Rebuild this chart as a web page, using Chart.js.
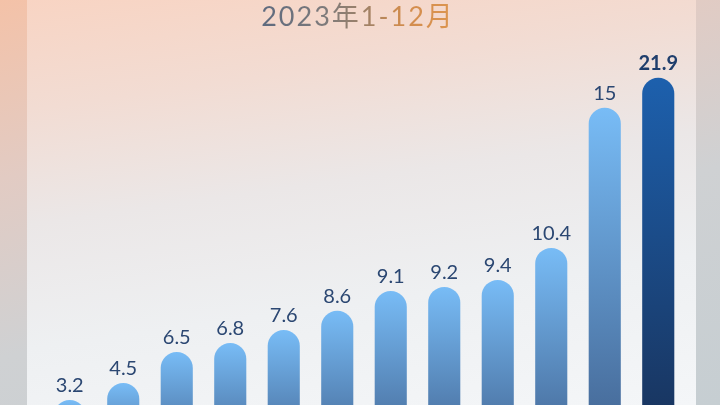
<!DOCTYPE html>
<html>
<head>
<meta charset="utf-8">
<script src="https://cdn.jsdelivr.net/npm/chart.js@4"></script>
<style>
  html, body { margin: 0; padding: 0; }
  body {
    width: 720px; height: 405px; overflow: hidden; position: relative;
    background: linear-gradient(165deg, #f4c2a8 0%, #e2cbc3 30%, #cfd1d3 60%, #c6ced2 100%);
  }
  #panel {
    position: absolute; left: 27px; top: 0; width: 669px; height: 405px;
    background: linear-gradient(172deg, #f8d4c3 0%, #f2dcd3 22%, #ebe7e7 45%, #eef0f2 70%, #f4f6f8 100%);
  }
  #title {
    position: absolute; left: 0; top: 2px; width: 716px; text-align: center;
    font-family: "Lato", "Noto Sans CJK SC", sans-serif; font-size: 27px; line-height: 27px;
    letter-spacing: 2px; font-weight: 400;
  }
  #title span {
    background: linear-gradient(90deg, #5d6a7f 0%, #7f7b7a 35%, #a88362 58%, #c98a50 68%, #d38d4e 78%, #dd9650 100%);
    -webkit-background-clip: text; background-clip: text; color: transparent;
  }
  #c { position: absolute; left: 0; top: 0; }
</style>
</head>
<body>
<div id="panel"></div>
<div id="title"><span>2023年1-12月</span></div>
<canvas id="c" width="720" height="405"></canvas>
<script>
// Categories (months) and displayed values
const categories = ['1月','2月','3月','4月','5月','6月','7月','8月','9月','10月','11月','12月'];
const values = ['3.2','4.5','6.5','6.8','7.6','8.6','9.1','9.2','9.4','10.4','15','21.9'];
// Bar lengths as drawn in the picture (not proportional to the labels)
const barLevels = [0.33, 1.47, 3.55, 4.15, 5.02, 6.30, 7.63, 7.90, 8.37, 10.51, 19.89, 21.9];

const labelPlugin = {
  id: 'barLabels',
  afterDatasetsDraw(chart) {
    const ctx = chart.ctx;
    const meta = chart.getDatasetMeta(0);
    ctx.save();
    ctx.textAlign = 'center';
    ctx.textBaseline = 'alphabetic';
    meta.data.forEach((bar, i) => {
      const last = i === meta.data.length - 1;
      ctx.font = (last ? '700 ' : '400 ') + '20px Lato, sans-serif';
      ctx.fillStyle = last ? '#1f3e6c' : '#2b4772';
      ctx.fillText(values[i], bar.x, bar.y - 8);
    });
    ctx.restore();
  }
};

function barColor(context) {
  const chart = context.chart;
  const area = chart.chartArea;
  if (!area || context.dataIndex === undefined) return '#6aaee9';
  const y = chart.scales.y.getPixelForValue(context.raw);
  const last = context.dataIndex === categories.length - 1;
  const g = chart.ctx.createLinearGradient(0, y, 0, area.bottom + 60);
  if (last) {
    g.addColorStop(0, '#1d60ad');
    g.addColorStop(1, '#182f55');
  } else {
    g.addColorStop(0, '#78bcf6');
    g.addColorStop(1, '#3f5f8c');
  }
  return g;
}

new Chart(document.getElementById('c'), {
  type: 'bar',
  data: {
    labels: categories,
    datasets: [{
      data: barLevels,
      base: -3,
      backgroundColor: barColor,
      borderRadius: { topLeft: 16, topRight: 16, bottomLeft: 0, bottomRight: 0 },
      borderSkipped: false,
      barPercentage: 0.6,
      categoryPercentage: 1
    }]
  },
  options: {
    responsive: false,
    animation: false,
    layout: { padding: { left: 43, right: 35, top: 0, bottom: 0 } },
    plugins: { legend: { display: false }, tooltip: { enabled: false }, title: { display: false } },
    scales: {
      x: { display: false },
      y: { display: false, min: 0, max: 27.1 }
    }
  },
  plugins: [labelPlugin]
});
</script>
</body>
</html>
